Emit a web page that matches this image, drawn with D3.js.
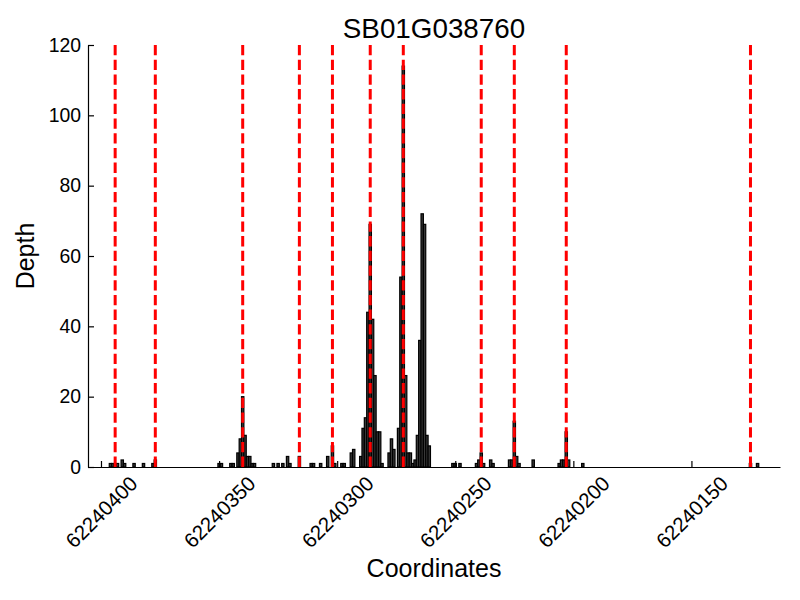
<!doctype html>
<html>
  <head>
    <meta charset="utf-8">
    <title>SB01G038760 depth</title>
    <script src="https://cdnjs.cloudflare.com/ajax/libs/d3/7.8.5/d3.min.js"></script>
    <style>
      body { margin: 0; background: #fff; }
      text { font-family: "Liberation Sans", Arial, sans-serif; fill: #000; }
    </style>
  </head>
  <body>
    <div id="chart"></div>
    <script>
      // Data: coordinate (bp) and read depth
      const coords = [
        62240396, 62240395, 62240394, 62240393, 62240391, 62240390, 62240386, 62240382, 62240378, 62240377,
        62240350, 62240349, 62240345, 62240344, 62240342, 62240341, 62240340, 62240339, 62240338, 62240337, 62240336, 62240335,
        62240327, 62240325, 62240323, 62240321, 62240320, 62240316, 62240311, 62240310, 62240307, 62240304, 62240302, 62240301,
        62240298, 62240297, 62240294, 62240293, 62240290, 62240289, 62240288, 62240287, 62240286, 62240285, 62240284, 62240283, 62240282, 62240281,
        62240278, 62240277, 62240276, 62240274, 62240273, 62240272, 62240271, 62240270, 62240269, 62240268, 62240267, 62240266, 62240265, 62240264, 62240263, 62240262, 62240261,
        62240251, 62240250, 62240248, 62240241, 62240240, 62240239, 62240238, 62240235, 62240234, 62240227, 62240226, 62240225, 62240224, 62240223, 62240217,
        62240206, 62240205, 62240204, 62240203, 62240202, 62240196, 62240125, 62240122
      ];
      const depths = [
        1, 1, 1, 1, 2, 1, 1, 1, 1, 2,
        1, 1, 1, 1, 4, 8, 20, 9, 3, 3, 1, 1,
        1, 1, 1, 3, 1, 3, 1, 1, 1, 3, 6, 1,
        1, 1, 4, 5, 3, 11, 14, 44, 69, 42, 26, 10, 10, 1,
        4, 8, 5, 11, 54, 114, 26, 4, 4, 1, 2, 9, 36, 72, 69, 9, 6,
        1, 1, 1, 1, 2, 4, 1, 2, 1, 2, 2, 13, 3, 1, 2,
        1, 2, 2, 10, 2, 1, 1, 1
      ];
      // Red dashed markers
      const markers = [62240394, 62240377, 62240340, 62240316, 62240302, 62240286,
                       62240272, 62240239, 62240225, 62240203, 62240125];
      const xTicks = [62240400, 62240350, 62240300, 62240250, 62240200, 62240150];
      const yTicks = [0, 20, 40, 60, 80, 100, 120];

      const mLeft = 88, mRight = 780, mTop = 45, mBottom = 467;

      const x = d3.scaleLinear().domain([62240405.5, 62240112.5]).range([mLeft, mRight]);
      const y = d3.scaleLinear().domain([0, 120]).range([mBottom, mTop]);

      const svg = d3.select('#chart').append('svg')
        .attr('width', 800)
        .attr('height', 600);

      // bars
      const bars = coords.map((c, i) => ({ c: c, d: depths[i] }));
      svg.selectAll('rect.bar')
        .data(bars)
        .join('rect')
        .attr('class', 'bar')
        .attr('x', d => x(d.c + 0.5))
        .attr('width', d => x(d.c - 0.5) - x(d.c + 0.5))
        .attr('y', d => y(d.d))
        .attr('height', d => y(0) - y(d.d))
        .attr('fill', '#383838')
        .attr('stroke', '#000')
        .attr('stroke-width', 1.2);

      // red dashed lines
      svg.selectAll('line.marker')
        .data(markers)
        .join('line')
        .attr('class', 'marker')
        .attr('x1', d => x(d)).attr('x2', d => x(d))
        .attr('y1', y(120)).attr('y2', y(0))
        .attr('stroke', '#ff0000')
        .attr('stroke-width', 3)
        .attr('stroke-dasharray', '10.3,4.4');

      // axes
      const yAxis = svg.append('g')
        .attr('transform', `translate(${mLeft},0)`)
        .call(d3.axisLeft(y).tickValues(yTicks).tickSize(-6).tickSizeOuter(0).tickPadding(7));
      yAxis.selectAll('text').style('font-size', '19.4px');

      const xAxis = svg.append('g')
        .attr('transform', `translate(0,${mBottom})`)
        .call(d3.axisBottom(x).tickValues(xTicks).tickFormat(d3.format('d')).tickSize(-6).tickSizeOuter(0));
      xAxis.selectAll('text')
        .attr('y', 0)
        .attr('dy', '0.35em')
        .attr('text-anchor', 'middle')
        .attr('transform', 'translate(0,45) rotate(-45)')
        .style('font-size', '20.5px');

      svg.selectAll('.domain, .tick line').attr('stroke', '#000').attr('stroke-width', 1.2);

      // titles
      svg.append('text')
        .attr('x', (mLeft + mRight) / 2)
        .attr('y', 38)
        .attr('text-anchor', 'middle')
        .style('font-size', '27.8px')
        .text('SB01G038760');

      svg.append('text')
        .attr('x', (mLeft + mRight) / 2)
        .attr('y', 577)
        .attr('text-anchor', 'middle')
        .style('font-size', '25px')
        .text('Coordinates');

      svg.append('text')
        .attr('transform', `translate(34,${(mTop + mBottom) / 2}) rotate(-90)`)
        .attr('text-anchor', 'middle')
        .style('font-size', '25px')
        .text('Depth');
    </script>
  </body>
</html>
